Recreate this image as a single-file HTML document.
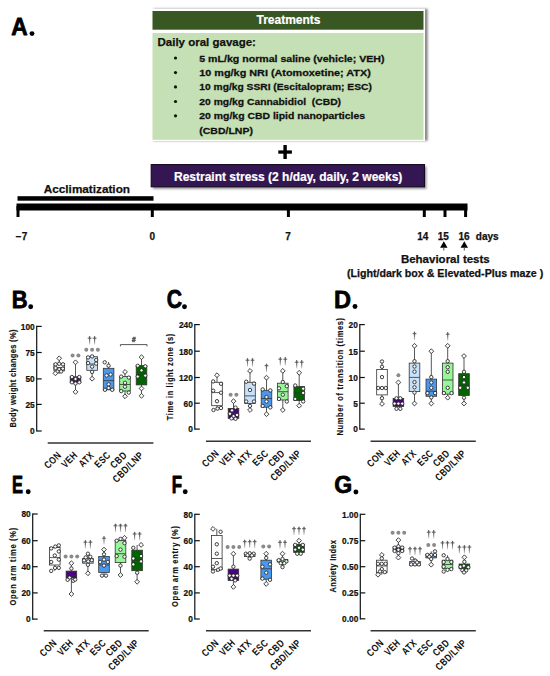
<!DOCTYPE html>
<html><head><meta charset="utf-8"><style>
html,body{margin:0;padding:0;background:#fff;}
svg{display:block;font-family:"Liberation Sans", sans-serif;}
</style></head><body>
<svg width="550" height="676" viewBox="0 0 550 676">
<defs><linearGradient id="dg" x1="0" y1="0" x2="0" y2="1"><stop offset="0" stop-color="#555"/><stop offset="0.5" stop-color="#707070"/><stop offset="1" stop-color="#c8c8c8"/></linearGradient><filter id="blur" x="-10%" y="-10%" width="120%" height="140%"><feGaussianBlur stdDeviation="1.2"/></filter></defs>
<rect width="550" height="676" fill="#fff"/>
<text transform="translate(11.13,34.80) scale(0.2269,0.2420)" font-size="100" font-weight="bold" fill="#000" stroke="#000" stroke-width="0.75" vector-effect="non-scaling-stroke" stroke-linejoin="round">A</text>
<circle cx="32.0" cy="33.6" r="2.45" fill="#000"/>
<rect x="153.6" y="8.8" width="274" height="132" fill="#000" opacity="0.5" filter="url(#blur)"/>
<rect x="150.5" y="8.7" width="274.6" height="132.3" fill="#fff"/>
<rect x="152.5" y="11" width="271" height="18.7" fill="#385723"/>
<rect x="152.5" y="33" width="271" height="106.8" fill="#C5E0B4"/>
<text x="288.5" y="24.4" font-size="12" font-weight="bold" fill="#fff" text-anchor="middle" stroke="#fff" stroke-width="0.2">Treatments</text>
<text x="157.5" y="46.4" font-size="11.5" font-weight="bold" fill="#111" stroke="#111" stroke-width="0.25">Daily oral gavage:</text>
<circle cx="175.5" cy="58.0" r="1.6" fill="#111"/>
<text transform="translate(199.3,61.5) scale(1.009,0.87)" font-size="10.5" font-weight="bold" fill="#111" stroke="#111" stroke-width="0.3" xml:space="preserve">5 mL/kg normal saline (vehicle; VEH)</text>
<circle cx="175.5" cy="72.60000000000001" r="1.6" fill="#111"/>
<text transform="translate(199.3,76.10000000000001) scale(1.032,0.87)" font-size="10.5" font-weight="bold" fill="#111" stroke="#111" stroke-width="0.3" xml:space="preserve">10 mg/kg NRI (Atomoxetine; ATX)</text>
<circle cx="175.5" cy="86.9" r="1.6" fill="#111"/>
<text transform="translate(199.3,90.4) scale(0.977,0.87)" font-size="10.5" font-weight="bold" fill="#111" stroke="#111" stroke-width="0.3" xml:space="preserve">10 mg/kg SSRI (Escitalopram; ESC)</text>
<circle cx="175.5" cy="101.5" r="1.6" fill="#111"/>
<text transform="translate(199.3,105.0) scale(0.984,0.87)" font-size="10.5" font-weight="bold" fill="#111" stroke="#111" stroke-width="0.3" xml:space="preserve">20 mg/kg Cannabidiol  (CBD)</text>
<circle cx="175.5" cy="115.8" r="1.6" fill="#111"/>
<text transform="translate(199.3,119.3) scale(0.995,0.87)" font-size="10.5" font-weight="bold" fill="#111" stroke="#111" stroke-width="0.3" xml:space="preserve">20 mg/kg CBD lipid nanoparticles</text>
<text transform="translate(199.3,133.6) scale(1.0,0.87)" font-size="10.5" font-weight="bold" fill="#111" stroke="#111" stroke-width="0.3" xml:space="preserve">(CBD/LNP)</text>
<rect x="278.3" y="150.4" width="13.6" height="3.3" fill="#000"/>
<rect x="283.4" y="145" width="3.4" height="14" fill="#000"/>
<rect x="153" y="166.5" width="273.5" height="22.5" fill="#000" opacity="0.4" filter="url(#blur)"/>
<rect x="151.2" y="164.6" width="273.3" height="22.2" fill="#341652" stroke="#140820" stroke-width="1.1"/>
<text x="174" y="180.6" font-size="12" font-weight="bold" fill="#fff" stroke="#fff" stroke-width="0.2">Restraint stress (2 h/day, daily, 2 weeks)</text>
<text x="43.8" y="192.9" font-size="11.75" font-weight="bold" fill="#111" stroke="#111" stroke-width="0.25">Acclimatization</text>
<rect x="17.5" y="196.2" width="136" height="4.5" fill="#000"/>
<rect x="16.5" y="203.5" width="451" height="7" fill="#000"/>
<rect x="16.5" y="206" width="3" height="11" fill="#000"/>
<rect x="150.8" y="206" width="3" height="11" fill="#000"/>
<rect x="286.9" y="206" width="3" height="11" fill="#000"/>
<rect x="422.8" y="206" width="3" height="11" fill="#000"/>
<rect x="443.5" y="206" width="3" height="11" fill="#000"/>
<rect x="464.1" y="206" width="3" height="11" fill="#000"/>
<text x="21.5" y="239.6" font-size="10" font-weight="bold" fill="#111" text-anchor="middle" stroke="#111" stroke-width="0.25">−7</text>
<text x="152.3" y="239.6" font-size="10" font-weight="bold" fill="#111" text-anchor="middle" stroke="#111" stroke-width="0.25">0</text>
<text x="288" y="239.6" font-size="10" font-weight="bold" fill="#111" text-anchor="middle" stroke="#111" stroke-width="0.25">7</text>
<text x="422.7" y="239.6" font-size="10" font-weight="bold" fill="#111" text-anchor="middle" stroke="#111" stroke-width="0.25">14</text>
<text x="443.2" y="239.6" font-size="10" font-weight="bold" fill="#111" text-anchor="middle" stroke="#111" stroke-width="0.25">15</text>
<text x="464.1" y="239.6" font-size="10" font-weight="bold" fill="#111" text-anchor="middle" stroke="#111" stroke-width="0.25">16</text>
<text x="475.8" y="239.6" font-size="10" font-weight="bold" fill="#111" stroke="#111" stroke-width="0.25">days</text>
<path d="M443.8 241.2 L447.5 247.7 L440.1 247.7 Z" fill="#000"/>
<rect x="443.3" y="247.5" width="1" height="3" fill="#555"/>
<path d="M464.3 241.2 L468.0 247.7 L460.6 247.7 Z" fill="#000"/>
<rect x="463.8" y="247.5" width="1" height="3" fill="#555"/>
<text x="400.9" y="262.8" font-size="11.5" font-weight="bold" fill="#111" stroke="#111" stroke-width="0.25">Behavioral tests</text>
<text x="346.9" y="276.6" font-size="10.65" font-weight="bold" fill="#111" stroke="#111" stroke-width="0.25">(Light/dark box &amp; Elevated-Plus maze )</text>
<text transform="translate(11.67,308.00) scale(0.2197,0.2406)" font-size="100" font-weight="bold" fill="#000" stroke="#000" stroke-width="0.75" vector-effect="non-scaling-stroke" stroke-linejoin="round">B</text>
<circle cx="30.7" cy="306.7" r="2.45" fill="#000"/>
<line x1="36.7" y1="325.79999999999995" x2="36.7" y2="431.6" stroke="#111" stroke-width="1.2"/>
<line x1="36.7" y1="326.4" x2="41.7" y2="326.4" stroke="#111" stroke-width="1.2"/>
<text transform="translate(34.70,329.70) scale(0.87,1)" font-size="9.6" font-weight="bold" fill="#111" text-anchor="end" stroke="#111" stroke-width="0.22">100</text>
<line x1="36.7" y1="352.5" x2="41.7" y2="352.5" stroke="#111" stroke-width="1.2"/>
<text transform="translate(34.70,355.80) scale(0.87,1)" font-size="9.6" font-weight="bold" fill="#111" text-anchor="end" stroke="#111" stroke-width="0.22">75</text>
<line x1="36.7" y1="378.9" x2="41.7" y2="378.9" stroke="#111" stroke-width="1.2"/>
<text transform="translate(34.70,382.20) scale(0.87,1)" font-size="9.6" font-weight="bold" fill="#111" text-anchor="end" stroke="#111" stroke-width="0.22">50</text>
<line x1="36.7" y1="404.4" x2="41.7" y2="404.4" stroke="#111" stroke-width="1.2"/>
<text transform="translate(34.70,407.70) scale(0.87,1)" font-size="9.6" font-weight="bold" fill="#111" text-anchor="end" stroke="#111" stroke-width="0.22">25</text>
<line x1="36.7" y1="431" x2="41.7" y2="431" stroke="#111" stroke-width="1.2"/>
<text transform="translate(34.70,434.30) scale(0.87,1)" font-size="9.6" font-weight="bold" fill="#111" text-anchor="end" stroke="#111" stroke-width="0.22">0</text>
<text transform="translate(15.90,378.55) rotate(-90) scale(0.78,1)" font-size="9.6" font-weight="bold" fill="#111" text-anchor="middle" textLength="125.64" lengthAdjust="spacing" stroke="#111" stroke-width="0.15">Body weight changes (%)</text>
<line x1="47.7" y1="443" x2="153.4" y2="443" stroke="#333" stroke-width="1.4"/>
<text transform="translate(61.80,455.80) rotate(-45) scale(0.8,1)" font-size="10.2" font-weight="bold" fill="#111" text-anchor="end" letter-spacing="0.45">CON</text>
<text transform="translate(78.10,455.80) rotate(-45) scale(0.8,1)" font-size="10.2" font-weight="bold" fill="#111" text-anchor="end" letter-spacing="0.45">VEH</text>
<text transform="translate(94.70,455.80) rotate(-45) scale(0.8,1)" font-size="10.2" font-weight="bold" fill="#111" text-anchor="end" letter-spacing="0.45">ATX</text>
<text transform="translate(111.20,455.80) rotate(-45) scale(0.8,1)" font-size="10.2" font-weight="bold" fill="#111" text-anchor="end" letter-spacing="0.45">ESC</text>
<text transform="translate(127.60,455.80) rotate(-45) scale(0.8,1)" font-size="10.2" font-weight="bold" fill="#111" text-anchor="end" letter-spacing="0.45">CBD</text>
<text transform="translate(144.10,455.80) rotate(-45) scale(0.8,1)" font-size="10.2" font-weight="bold" fill="#111" text-anchor="end" letter-spacing="0.45">CBD/LNP</text>
<line x1="59.2" y1="358.5" x2="59.2" y2="373.8" stroke="#444" stroke-width="0.9"/>
<rect x="53.900000000000006" y="363.8" width="10.6" height="7.099999999999966" fill="#ffffff" stroke="#333" stroke-width="0.8"/>
<line x1="53.900000000000006" y1="367.5" x2="64.5" y2="367.5" stroke="#333" stroke-width="0.8"/>
<path d="M59.20 355.90 L61.60 358.30 L59.20 360.70 L56.80 358.30 Z" fill="#fafafa" stroke="#222" stroke-width="0.85"/>
<circle cx="55.60" cy="364.30" r="1.7" fill="#fafafa" stroke="#222" stroke-width="0.85"/>
<circle cx="59.20" cy="363.80" r="1.7" fill="#fafafa" stroke="#222" stroke-width="0.85"/>
<circle cx="63.00" cy="364.30" r="1.7" fill="#fafafa" stroke="#222" stroke-width="0.85"/>
<circle cx="55.60" cy="368.00" r="1.7" fill="#fafafa" stroke="#222" stroke-width="0.85"/>
<circle cx="59.20" cy="369.30" r="1.7" fill="#fafafa" stroke="#222" stroke-width="0.85"/>
<circle cx="62.80" cy="368.60" r="1.7" fill="#fafafa" stroke="#222" stroke-width="0.85"/>
<circle cx="57.40" cy="371.50" r="1.7" fill="#fafafa" stroke="#222" stroke-width="0.85"/>
<circle cx="61.10" cy="371.50" r="1.7" fill="#fafafa" stroke="#222" stroke-width="0.85"/>
<path d="M55.40 370.90 L57.80 373.30 L55.40 375.70 L53.00 373.30 Z" fill="#fafafa" stroke="#222" stroke-width="0.85"/>
<line x1="75.5" y1="362" x2="75.5" y2="391.6" stroke="#444" stroke-width="0.9"/>
<rect x="70.2" y="376.8" width="10.6" height="5.899999999999977" fill="#4b0082" stroke="#333" stroke-width="0.8"/>
<line x1="70.2" y1="379.6" x2="80.8" y2="379.6" stroke="#333" stroke-width="0.8"/>
<path d="M75.50 359.90 L77.90 362.30 L75.50 364.70 L73.10 362.30 Z" fill="#fafafa" stroke="#222" stroke-width="0.85"/>
<circle cx="71.90" cy="377.00" r="1.7" fill="#fafafa" stroke="#222" stroke-width="0.85"/>
<circle cx="79.30" cy="377.00" r="1.7" fill="#fafafa" stroke="#222" stroke-width="0.85"/>
<circle cx="75.50" cy="379.00" r="1.7" fill="#fafafa" stroke="#222" stroke-width="0.85"/>
<circle cx="71.90" cy="382.30" r="1.7" fill="#fafafa" stroke="#222" stroke-width="0.85"/>
<circle cx="79.30" cy="382.30" r="1.7" fill="#fafafa" stroke="#222" stroke-width="0.85"/>
<circle cx="75.50" cy="383.50" r="1.7" fill="#fafafa" stroke="#222" stroke-width="0.85"/>
<path d="M75.50 389.50 L77.90 391.90 L75.50 394.30 L73.10 391.90 Z" fill="#fafafa" stroke="#222" stroke-width="0.85"/>
<line x1="92.1" y1="356.7" x2="92.1" y2="379.2" stroke="#444" stroke-width="0.9"/>
<rect x="86.8" y="356.7" width="10.6" height="13.600000000000023" fill="#c8e1fa" stroke="#333" stroke-width="0.8"/>
<line x1="86.8" y1="364" x2="97.39999999999999" y2="364" stroke="#333" stroke-width="0.8"/>
<circle cx="88.10" cy="357.40" r="1.7" fill="#fafafa" stroke="#222" stroke-width="0.85"/>
<circle cx="92.10" cy="356.40" r="1.7" fill="#fafafa" stroke="#222" stroke-width="0.85"/>
<circle cx="96.20" cy="360.00" r="1.7" fill="#fafafa" stroke="#222" stroke-width="0.85"/>
<circle cx="88.10" cy="363.10" r="1.7" fill="#fafafa" stroke="#222" stroke-width="0.85"/>
<circle cx="96.10" cy="363.60" r="1.7" fill="#fafafa" stroke="#222" stroke-width="0.85"/>
<circle cx="92.10" cy="366.70" r="1.7" fill="#fafafa" stroke="#222" stroke-width="0.85"/>
<circle cx="92.10" cy="371.90" r="1.7" fill="#fafafa" stroke="#222" stroke-width="0.85"/>
<path d="M92.10 376.30 L94.50 378.70 L92.10 381.10 L89.70 378.70 Z" fill="#fafafa" stroke="#222" stroke-width="0.85"/>
<line x1="108.6" y1="362" x2="108.6" y2="390" stroke="#444" stroke-width="0.9"/>
<rect x="103.3" y="368.3" width="10.6" height="21.5" fill="#4a98ee" stroke="#333" stroke-width="0.8"/>
<line x1="103.3" y1="380.6" x2="113.89999999999999" y2="380.6" stroke="#333" stroke-width="0.8"/>
<circle cx="104.70" cy="362.30" r="1.7" fill="#fafafa" stroke="#222" stroke-width="0.85"/>
<circle cx="108.60" cy="365.70" r="1.7" fill="#fafafa" stroke="#222" stroke-width="0.85"/>
<circle cx="106.60" cy="375.50" r="1.7" fill="#fafafa" stroke="#222" stroke-width="0.85"/>
<circle cx="110.60" cy="374.50" r="1.7" fill="#fafafa" stroke="#222" stroke-width="0.85"/>
<circle cx="108.60" cy="384.30" r="1.7" fill="#fafafa" stroke="#222" stroke-width="0.85"/>
<circle cx="108.60" cy="388.00" r="1.7" fill="#fafafa" stroke="#222" stroke-width="0.85"/>
<circle cx="105.00" cy="389.80" r="1.7" fill="#fafafa" stroke="#222" stroke-width="0.85"/>
<circle cx="112.20" cy="389.80" r="1.7" fill="#fafafa" stroke="#222" stroke-width="0.85"/>
<line x1="125" y1="371.7" x2="125" y2="397" stroke="#444" stroke-width="0.9"/>
<rect x="119.7" y="376.6" width="10.6" height="14.399999999999977" fill="#98f598" stroke="#333" stroke-width="0.8"/>
<line x1="119.7" y1="384.5" x2="130.3" y2="384.5" stroke="#333" stroke-width="0.8"/>
<path d="M125.00 369.50 L127.40 371.90 L125.00 374.30 L122.60 371.90 Z" fill="#fafafa" stroke="#222" stroke-width="0.85"/>
<circle cx="121.20" cy="376.60" r="1.7" fill="#fafafa" stroke="#222" stroke-width="0.85"/>
<circle cx="128.80" cy="377.60" r="1.7" fill="#fafafa" stroke="#222" stroke-width="0.85"/>
<circle cx="125.00" cy="382.80" r="1.7" fill="#fafafa" stroke="#222" stroke-width="0.85"/>
<circle cx="125.00" cy="386.70" r="1.7" fill="#fafafa" stroke="#222" stroke-width="0.85"/>
<circle cx="121.20" cy="391.10" r="1.7" fill="#fafafa" stroke="#222" stroke-width="0.85"/>
<circle cx="128.80" cy="392.60" r="1.7" fill="#fafafa" stroke="#222" stroke-width="0.85"/>
<path d="M125.00 393.90 L127.40 396.30 L125.00 398.70 L122.60 396.30 Z" fill="#fafafa" stroke="#222" stroke-width="0.85"/>
<line x1="141.5" y1="357" x2="141.5" y2="395.7" stroke="#444" stroke-width="0.9"/>
<rect x="136.2" y="365.6" width="10.6" height="19.299999999999955" fill="#006400" stroke="#333" stroke-width="0.8"/>
<line x1="136.2" y1="375" x2="146.8" y2="375" stroke="#333" stroke-width="0.8"/>
<path d="M141.50 354.80 L143.90 357.20 L141.50 359.60 L139.10 357.20 Z" fill="#fafafa" stroke="#222" stroke-width="0.85"/>
<circle cx="137.70" cy="365.80" r="1.7" fill="#fafafa" stroke="#222" stroke-width="0.85"/>
<circle cx="145.30" cy="366.30" r="1.7" fill="#fafafa" stroke="#222" stroke-width="0.85"/>
<circle cx="141.50" cy="370.40" r="1.7" fill="#fafafa" stroke="#222" stroke-width="0.85"/>
<circle cx="137.70" cy="376.60" r="1.7" fill="#fafafa" stroke="#222" stroke-width="0.85"/>
<circle cx="145.30" cy="375.60" r="1.7" fill="#fafafa" stroke="#222" stroke-width="0.85"/>
<path d="M141.50 386.10 L143.90 388.50 L141.50 390.90 L139.10 388.50 Z" fill="#fafafa" stroke="#222" stroke-width="0.85"/>
<path d="M141.50 393.40 L143.90 395.80 L141.50 398.20 L139.10 395.80 Z" fill="#fafafa" stroke="#222" stroke-width="0.85"/>
<circle cx="72.60" cy="355.5" r="2" fill="#8a8a8a"/>
<circle cx="78.40" cy="355.5" r="2" fill="#8a8a8a"/>
<circle cx="86.30" cy="349.8" r="2" fill="#8a8a8a"/>
<circle cx="92.10" cy="349.8" r="2" fill="#8a8a8a"/>
<circle cx="97.90" cy="349.8" r="2" fill="#8a8a8a"/>
<path d="M88.90 336.60 L89.60 336.00 L90.30 336.60 L90.05 344.50 L89.15 344.50 Z" fill="url(#dg)"/>
<rect x="87.70" y="337.70" width="3.8" height="1" fill="#5a5a5a"/>
<path d="M93.90 336.60 L94.60 336.00 L95.30 336.60 L95.05 344.50 L94.15 344.50 Z" fill="url(#dg)"/>
<rect x="92.70" y="337.70" width="3.8" height="1" fill="#5a5a5a"/>
<path d="M120.4 346.40000000000003 L120.4 344.6 L147 344.6 L147 346.40000000000003" stroke="#444" stroke-width="0.9" fill="none"/>
<text x="133.7" y="341.5" font-size="6.5" font-weight="bold" fill="#555" stroke="#555" stroke-width="0.5" text-anchor="middle">#</text>
<text transform="translate(166.75,308.25) scale(0.2122,0.2493)" font-size="100" font-weight="bold" fill="#000" stroke="#000" stroke-width="0.75" vector-effect="non-scaling-stroke" stroke-linejoin="round">C</text>
<circle cx="184.5" cy="306.7" r="2.45" fill="#000"/>
<line x1="194.8" y1="324.0" x2="194.8" y2="429.70000000000005" stroke="#111" stroke-width="1.2"/>
<line x1="194.8" y1="324.6" x2="199.8" y2="324.6" stroke="#111" stroke-width="1.2"/>
<text transform="translate(192.80,327.90) scale(0.87,1)" font-size="9.6" font-weight="bold" fill="#111" text-anchor="end" stroke="#111" stroke-width="0.22">240</text>
<line x1="194.8" y1="351.2" x2="199.8" y2="351.2" stroke="#111" stroke-width="1.2"/>
<text transform="translate(192.80,354.50) scale(0.87,1)" font-size="9.6" font-weight="bold" fill="#111" text-anchor="end" stroke="#111" stroke-width="0.22">180</text>
<line x1="194.8" y1="377.5" x2="199.8" y2="377.5" stroke="#111" stroke-width="1.2"/>
<text transform="translate(192.80,380.80) scale(0.87,1)" font-size="9.6" font-weight="bold" fill="#111" text-anchor="end" stroke="#111" stroke-width="0.22">120</text>
<line x1="194.8" y1="403.2" x2="199.8" y2="403.2" stroke="#111" stroke-width="1.2"/>
<text transform="translate(192.80,406.50) scale(0.87,1)" font-size="9.6" font-weight="bold" fill="#111" text-anchor="end" stroke="#111" stroke-width="0.22">60</text>
<line x1="194.8" y1="429.1" x2="199.8" y2="429.1" stroke="#111" stroke-width="1.2"/>
<text transform="translate(192.80,432.40) scale(0.87,1)" font-size="9.6" font-weight="bold" fill="#111" text-anchor="end" stroke="#111" stroke-width="0.22">0</text>
<text transform="translate(172.80,377.00) rotate(-90) scale(0.78,1)" font-size="9.6" font-weight="bold" fill="#111" text-anchor="middle" textLength="111.03" lengthAdjust="spacing" stroke="#111" stroke-width="0.15">Time in light zone (s)</text>
<line x1="206" y1="441.3" x2="311" y2="441.3" stroke="#333" stroke-width="1.4"/>
<text transform="translate(219.60,454.10) rotate(-45) scale(0.8,1)" font-size="10.2" font-weight="bold" fill="#111" text-anchor="end" letter-spacing="0.45">CON</text>
<text transform="translate(236.10,454.10) rotate(-45) scale(0.8,1)" font-size="10.2" font-weight="bold" fill="#111" text-anchor="end" letter-spacing="0.45">VEH</text>
<text transform="translate(252.60,454.10) rotate(-45) scale(0.8,1)" font-size="10.2" font-weight="bold" fill="#111" text-anchor="end" letter-spacing="0.45">ATX</text>
<text transform="translate(269.10,454.10) rotate(-45) scale(0.8,1)" font-size="10.2" font-weight="bold" fill="#111" text-anchor="end" letter-spacing="0.45">ESC</text>
<text transform="translate(285.40,454.10) rotate(-45) scale(0.8,1)" font-size="10.2" font-weight="bold" fill="#111" text-anchor="end" letter-spacing="0.45">CBD</text>
<text transform="translate(301.80,454.10) rotate(-45) scale(0.8,1)" font-size="10.2" font-weight="bold" fill="#111" text-anchor="end" letter-spacing="0.45">CBD/LNP</text>
<line x1="217" y1="375.2" x2="217" y2="410" stroke="#444" stroke-width="0.9"/>
<rect x="211.7" y="382.3" width="10.6" height="23.399999999999977" fill="#ffffff" stroke="#333" stroke-width="0.8"/>
<line x1="211.7" y1="392.6" x2="222.3" y2="392.6" stroke="#333" stroke-width="0.8"/>
<path d="M217.00 372.80 L219.40 375.20 L217.00 377.60 L214.60 375.20 Z" fill="#fafafa" stroke="#222" stroke-width="0.85"/>
<circle cx="213.20" cy="381.40" r="1.7" fill="#fafafa" stroke="#222" stroke-width="0.85"/>
<circle cx="221.00" cy="383.80" r="1.7" fill="#fafafa" stroke="#222" stroke-width="0.85"/>
<circle cx="213.20" cy="390.70" r="1.7" fill="#fafafa" stroke="#222" stroke-width="0.85"/>
<circle cx="221.00" cy="392.70" r="1.7" fill="#fafafa" stroke="#222" stroke-width="0.85"/>
<circle cx="217.00" cy="401.20" r="1.7" fill="#fafafa" stroke="#222" stroke-width="0.85"/>
<circle cx="221.00" cy="408.00" r="1.7" fill="#fafafa" stroke="#222" stroke-width="0.85"/>
<circle cx="217.50" cy="408.60" r="1.7" fill="#fafafa" stroke="#222" stroke-width="0.85"/>
<circle cx="213.50" cy="410.00" r="1.7" fill="#fafafa" stroke="#222" stroke-width="0.85"/>
<line x1="233.5" y1="401.4" x2="233.5" y2="420" stroke="#444" stroke-width="0.9"/>
<rect x="228.2" y="408.5" width="10.6" height="9.800000000000011" fill="#4b0082" stroke="#333" stroke-width="0.8"/>
<line x1="228.2" y1="413" x2="238.8" y2="413" stroke="#333" stroke-width="0.8"/>
<path d="M233.50 398.80 L235.90 401.20 L233.50 403.60 L231.10 401.20 Z" fill="#fafafa" stroke="#222" stroke-width="0.85"/>
<circle cx="235.50" cy="407.60" r="1.7" fill="#fafafa" stroke="#222" stroke-width="0.85"/>
<circle cx="232.00" cy="410.40" r="1.7" fill="#fafafa" stroke="#222" stroke-width="0.85"/>
<circle cx="229.90" cy="413.80" r="1.7" fill="#fafafa" stroke="#222" stroke-width="0.85"/>
<circle cx="237.10" cy="415.00" r="1.7" fill="#fafafa" stroke="#222" stroke-width="0.85"/>
<circle cx="233.50" cy="416.20" r="1.7" fill="#fafafa" stroke="#222" stroke-width="0.85"/>
<circle cx="231.50" cy="418.40" r="1.7" fill="#fafafa" stroke="#222" stroke-width="0.85"/>
<circle cx="235.50" cy="418.80" r="1.7" fill="#fafafa" stroke="#222" stroke-width="0.85"/>
<line x1="250" y1="370.8" x2="250" y2="410" stroke="#444" stroke-width="0.9"/>
<rect x="244.7" y="382.3" width="10.6" height="21.19999999999999" fill="#c8e1fa" stroke="#333" stroke-width="0.8"/>
<line x1="244.7" y1="395.9" x2="255.3" y2="395.9" stroke="#333" stroke-width="0.8"/>
<path d="M250.00 368.50 L252.40 370.90 L250.00 373.30 L247.60 370.90 Z" fill="#fafafa" stroke="#222" stroke-width="0.85"/>
<circle cx="246.20" cy="381.70" r="1.7" fill="#fafafa" stroke="#222" stroke-width="0.85"/>
<circle cx="254.00" cy="383.60" r="1.7" fill="#fafafa" stroke="#222" stroke-width="0.85"/>
<circle cx="250.00" cy="390.00" r="1.7" fill="#fafafa" stroke="#222" stroke-width="0.85"/>
<circle cx="246.20" cy="401.50" r="1.7" fill="#fafafa" stroke="#222" stroke-width="0.85"/>
<circle cx="254.00" cy="401.50" r="1.7" fill="#fafafa" stroke="#222" stroke-width="0.85"/>
<circle cx="250.00" cy="405.90" r="1.7" fill="#fafafa" stroke="#222" stroke-width="0.85"/>
<path d="M250.00 407.60 L252.40 410.00 L250.00 412.40 L247.60 410.00 Z" fill="#fafafa" stroke="#222" stroke-width="0.85"/>
<line x1="266.5" y1="377.2" x2="266.5" y2="414" stroke="#444" stroke-width="0.9"/>
<rect x="261.2" y="390.3" width="10.6" height="16.899999999999977" fill="#4a98ee" stroke="#333" stroke-width="0.8"/>
<line x1="261.2" y1="398.5" x2="271.8" y2="398.5" stroke="#333" stroke-width="0.8"/>
<path d="M266.50 375.30 L268.90 377.70 L266.50 380.10 L264.10 377.70 Z" fill="#fafafa" stroke="#222" stroke-width="0.85"/>
<circle cx="262.70" cy="389.40" r="1.7" fill="#fafafa" stroke="#222" stroke-width="0.85"/>
<circle cx="270.30" cy="390.40" r="1.7" fill="#fafafa" stroke="#222" stroke-width="0.85"/>
<circle cx="266.50" cy="397.00" r="1.7" fill="#fafafa" stroke="#222" stroke-width="0.85"/>
<circle cx="266.50" cy="401.50" r="1.7" fill="#fafafa" stroke="#222" stroke-width="0.85"/>
<circle cx="262.70" cy="405.90" r="1.7" fill="#fafafa" stroke="#222" stroke-width="0.85"/>
<circle cx="270.30" cy="407.40" r="1.7" fill="#fafafa" stroke="#222" stroke-width="0.85"/>
<path d="M266.50 411.80 L268.90 414.20 L266.50 416.60 L264.10 414.20 Z" fill="#fafafa" stroke="#222" stroke-width="0.85"/>
<line x1="282.8" y1="371" x2="282.8" y2="410.2" stroke="#444" stroke-width="0.9"/>
<rect x="277.5" y="383.2" width="10.6" height="16.80000000000001" fill="#98f598" stroke="#333" stroke-width="0.8"/>
<line x1="277.5" y1="391.7" x2="288.1" y2="391.7" stroke="#333" stroke-width="0.8"/>
<path d="M282.80 368.50 L285.20 370.90 L282.80 373.30 L280.40 370.90 Z" fill="#fafafa" stroke="#222" stroke-width="0.85"/>
<circle cx="282.80" cy="382.00" r="1.7" fill="#fafafa" stroke="#222" stroke-width="0.85"/>
<circle cx="286.80" cy="386.20" r="1.7" fill="#fafafa" stroke="#222" stroke-width="0.85"/>
<circle cx="279.00" cy="388.30" r="1.7" fill="#fafafa" stroke="#222" stroke-width="0.85"/>
<circle cx="282.80" cy="394.70" r="1.7" fill="#fafafa" stroke="#222" stroke-width="0.85"/>
<circle cx="279.00" cy="398.90" r="1.7" fill="#fafafa" stroke="#222" stroke-width="0.85"/>
<circle cx="286.80" cy="401.50" r="1.7" fill="#fafafa" stroke="#222" stroke-width="0.85"/>
<path d="M282.80 407.60 L285.20 410.00 L282.80 412.40 L280.40 410.00 Z" fill="#fafafa" stroke="#222" stroke-width="0.85"/>
<line x1="299.2" y1="372.8" x2="299.2" y2="405.5" stroke="#444" stroke-width="0.9"/>
<rect x="293.9" y="386.5" width="10.6" height="14.100000000000023" fill="#006400" stroke="#333" stroke-width="0.8"/>
<line x1="293.9" y1="393" x2="304.5" y2="393" stroke="#333" stroke-width="0.8"/>
<path d="M299.20 370.40 L301.60 372.80 L299.20 375.20 L296.80 372.80 Z" fill="#fafafa" stroke="#222" stroke-width="0.85"/>
<circle cx="295.20" cy="385.50" r="1.7" fill="#fafafa" stroke="#222" stroke-width="0.85"/>
<circle cx="303.20" cy="388.70" r="1.7" fill="#fafafa" stroke="#222" stroke-width="0.85"/>
<circle cx="303.20" cy="392.90" r="1.7" fill="#fafafa" stroke="#222" stroke-width="0.85"/>
<circle cx="295.20" cy="398.90" r="1.7" fill="#fafafa" stroke="#222" stroke-width="0.85"/>
<circle cx="303.20" cy="401.50" r="1.7" fill="#fafafa" stroke="#222" stroke-width="0.85"/>
<path d="M299.20 403.30 L301.60 405.70 L299.20 408.10 L296.80 405.70 Z" fill="#fafafa" stroke="#222" stroke-width="0.85"/>
<circle cx="230.60" cy="394.8" r="2" fill="#8a8a8a"/>
<circle cx="236.40" cy="394.8" r="2" fill="#8a8a8a"/>
<path d="M246.80 358.60 L247.50 358.00 L248.20 358.60 L247.95 366.50 L247.05 366.50 Z" fill="url(#dg)"/>
<rect x="245.60" y="359.70" width="3.8" height="1" fill="#5a5a5a"/>
<path d="M251.80 358.60 L252.50 358.00 L253.20 358.60 L252.95 366.50 L252.05 366.50 Z" fill="url(#dg)"/>
<rect x="250.60" y="359.70" width="3.8" height="1" fill="#5a5a5a"/>
<path d="M265.80 364.10 L266.50 363.50 L267.20 364.10 L266.95 372.00 L266.05 372.00 Z" fill="url(#dg)"/>
<rect x="264.60" y="365.20" width="3.8" height="1" fill="#5a5a5a"/>
<path d="M279.60 357.60 L280.30 357.00 L281.00 357.60 L280.75 365.50 L279.85 365.50 Z" fill="url(#dg)"/>
<rect x="278.40" y="358.70" width="3.8" height="1" fill="#5a5a5a"/>
<path d="M284.60 357.60 L285.30 357.00 L286.00 357.60 L285.75 365.50 L284.85 365.50 Z" fill="url(#dg)"/>
<rect x="283.40" y="358.70" width="3.8" height="1" fill="#5a5a5a"/>
<path d="M296.00 360.60 L296.70 360.00 L297.40 360.60 L297.15 368.50 L296.25 368.50 Z" fill="url(#dg)"/>
<rect x="294.80" y="361.70" width="3.8" height="1" fill="#5a5a5a"/>
<path d="M301.00 360.60 L301.70 360.00 L302.40 360.60 L302.15 368.50 L301.25 368.50 Z" fill="url(#dg)"/>
<rect x="299.80" y="361.70" width="3.8" height="1" fill="#5a5a5a"/>
<text transform="translate(334.07,308.00) scale(0.2358,0.2406)" font-size="100" font-weight="bold" fill="#000" stroke="#000" stroke-width="0.75" vector-effect="non-scaling-stroke" stroke-linejoin="round">D</text>
<circle cx="355.0" cy="306.5" r="2.45" fill="#000"/>
<line x1="359.8" y1="324.0" x2="359.8" y2="429.70000000000005" stroke="#111" stroke-width="1.2"/>
<line x1="359.8" y1="324.6" x2="364.8" y2="324.6" stroke="#111" stroke-width="1.2"/>
<text transform="translate(357.80,327.90) scale(0.87,1)" font-size="9.6" font-weight="bold" fill="#111" text-anchor="end" stroke="#111" stroke-width="0.22">20</text>
<line x1="359.8" y1="351.2" x2="364.8" y2="351.2" stroke="#111" stroke-width="1.2"/>
<text transform="translate(357.80,354.50) scale(0.87,1)" font-size="9.6" font-weight="bold" fill="#111" text-anchor="end" stroke="#111" stroke-width="0.22">15</text>
<line x1="359.8" y1="377.5" x2="364.8" y2="377.5" stroke="#111" stroke-width="1.2"/>
<text transform="translate(357.80,380.80) scale(0.87,1)" font-size="9.6" font-weight="bold" fill="#111" text-anchor="end" stroke="#111" stroke-width="0.22">10</text>
<line x1="359.8" y1="403.2" x2="364.8" y2="403.2" stroke="#111" stroke-width="1.2"/>
<text transform="translate(357.80,406.50) scale(0.87,1)" font-size="9.6" font-weight="bold" fill="#111" text-anchor="end" stroke="#111" stroke-width="0.22">5</text>
<line x1="359.8" y1="429.1" x2="364.8" y2="429.1" stroke="#111" stroke-width="1.2"/>
<text transform="translate(357.80,432.40) scale(0.87,1)" font-size="9.6" font-weight="bold" fill="#111" text-anchor="end" stroke="#111" stroke-width="0.22">0</text>
<text transform="translate(342.80,376.75) rotate(-90) scale(0.78,1)" font-size="9.6" font-weight="bold" fill="#111" text-anchor="middle" textLength="150.77" lengthAdjust="spacing" stroke="#111" stroke-width="0.15">Number of transition (times)</text>
<line x1="370.6" y1="441.3" x2="475.8" y2="441.3" stroke="#333" stroke-width="1.4"/>
<text transform="translate(384.60,454.10) rotate(-45) scale(0.8,1)" font-size="10.2" font-weight="bold" fill="#111" text-anchor="end" letter-spacing="0.45">CON</text>
<text transform="translate(401.00,454.10) rotate(-45) scale(0.8,1)" font-size="10.2" font-weight="bold" fill="#111" text-anchor="end" letter-spacing="0.45">VEH</text>
<text transform="translate(417.10,454.10) rotate(-45) scale(0.8,1)" font-size="10.2" font-weight="bold" fill="#111" text-anchor="end" letter-spacing="0.45">ATX</text>
<text transform="translate(433.90,454.10) rotate(-45) scale(0.8,1)" font-size="10.2" font-weight="bold" fill="#111" text-anchor="end" letter-spacing="0.45">ESC</text>
<text transform="translate(450.30,454.10) rotate(-45) scale(0.8,1)" font-size="10.2" font-weight="bold" fill="#111" text-anchor="end" letter-spacing="0.45">CBD</text>
<text transform="translate(466.60,454.10) rotate(-45) scale(0.8,1)" font-size="10.2" font-weight="bold" fill="#111" text-anchor="end" letter-spacing="0.45">CBD/LNP</text>
<line x1="382" y1="361.5" x2="382" y2="403.6" stroke="#444" stroke-width="0.9"/>
<rect x="376.7" y="369.5" width="10.6" height="25.399999999999977" fill="#ffffff" stroke="#333" stroke-width="0.8"/>
<line x1="376.7" y1="387.6" x2="387.3" y2="387.6" stroke="#333" stroke-width="0.8"/>
<circle cx="382.00" cy="361.50" r="1.7" fill="#fafafa" stroke="#222" stroke-width="0.85"/>
<circle cx="382.00" cy="366.80" r="1.7" fill="#fafafa" stroke="#222" stroke-width="0.85"/>
<circle cx="382.00" cy="377.10" r="1.7" fill="#fafafa" stroke="#222" stroke-width="0.85"/>
<circle cx="378.20" cy="388.00" r="1.7" fill="#fafafa" stroke="#222" stroke-width="0.85"/>
<circle cx="382.00" cy="388.00" r="1.7" fill="#fafafa" stroke="#222" stroke-width="0.85"/>
<circle cx="385.80" cy="388.00" r="1.7" fill="#fafafa" stroke="#222" stroke-width="0.85"/>
<circle cx="382.00" cy="398.20" r="1.7" fill="#fafafa" stroke="#222" stroke-width="0.85"/>
<path d="M382.00 401.50 L384.40 403.90 L382.00 406.30 L379.60 403.90 Z" fill="#fafafa" stroke="#222" stroke-width="0.85"/>
<line x1="398.4" y1="382.5" x2="398.4" y2="407" stroke="#444" stroke-width="0.9"/>
<rect x="393.09999999999997" y="398.5" width="10.6" height="8.0" fill="#4b0082" stroke="#333" stroke-width="0.8"/>
<line x1="393.09999999999997" y1="403" x2="403.7" y2="403" stroke="#333" stroke-width="0.8"/>
<path d="M398.40 380.00 L400.80 382.40 L398.40 384.80 L396.00 382.40 Z" fill="#fafafa" stroke="#222" stroke-width="0.85"/>
<circle cx="396.50" cy="398.30" r="1.7" fill="#fafafa" stroke="#222" stroke-width="0.85"/>
<circle cx="400.30" cy="398.30" r="1.7" fill="#fafafa" stroke="#222" stroke-width="0.85"/>
<circle cx="394.60" cy="403.60" r="1.7" fill="#fafafa" stroke="#222" stroke-width="0.85"/>
<circle cx="398.40" cy="403.60" r="1.7" fill="#fafafa" stroke="#222" stroke-width="0.85"/>
<circle cx="402.20" cy="403.60" r="1.7" fill="#fafafa" stroke="#222" stroke-width="0.85"/>
<circle cx="396.50" cy="408.80" r="1.7" fill="#fafafa" stroke="#222" stroke-width="0.85"/>
<circle cx="400.30" cy="408.80" r="1.7" fill="#fafafa" stroke="#222" stroke-width="0.85"/>
<line x1="414.5" y1="345.8" x2="414.5" y2="403.5" stroke="#444" stroke-width="0.9"/>
<rect x="409.2" y="363.1" width="10.6" height="28.5" fill="#c8e1fa" stroke="#333" stroke-width="0.8"/>
<line x1="409.2" y1="377.4" x2="419.8" y2="377.4" stroke="#333" stroke-width="0.8"/>
<path d="M414.50 343.40 L416.90 345.80 L414.50 348.20 L412.10 345.80 Z" fill="#fafafa" stroke="#222" stroke-width="0.85"/>
<circle cx="414.50" cy="361.20" r="1.7" fill="#fafafa" stroke="#222" stroke-width="0.85"/>
<circle cx="414.50" cy="366.50" r="1.7" fill="#fafafa" stroke="#222" stroke-width="0.85"/>
<circle cx="414.50" cy="371.70" r="1.7" fill="#fafafa" stroke="#222" stroke-width="0.85"/>
<circle cx="414.50" cy="382.10" r="1.7" fill="#fafafa" stroke="#222" stroke-width="0.85"/>
<circle cx="414.50" cy="387.30" r="1.7" fill="#fafafa" stroke="#222" stroke-width="0.85"/>
<circle cx="414.50" cy="392.60" r="1.7" fill="#fafafa" stroke="#222" stroke-width="0.85"/>
<path d="M414.50 401.10 L416.90 403.50 L414.50 405.90 L412.10 403.50 Z" fill="#fafafa" stroke="#222" stroke-width="0.85"/>
<line x1="431.3" y1="351.2" x2="431.3" y2="403.5" stroke="#444" stroke-width="0.9"/>
<rect x="426.0" y="379.1" width="10.6" height="17.19999999999999" fill="#4a98ee" stroke="#333" stroke-width="0.8"/>
<line x1="426.0" y1="391.2" x2="436.6" y2="391.2" stroke="#333" stroke-width="0.8"/>
<path d="M431.30 348.80 L433.70 351.20 L431.30 353.60 L428.90 351.20 Z" fill="#fafafa" stroke="#222" stroke-width="0.85"/>
<circle cx="431.30" cy="377.10" r="1.7" fill="#fafafa" stroke="#222" stroke-width="0.85"/>
<circle cx="431.30" cy="382.50" r="1.7" fill="#fafafa" stroke="#222" stroke-width="0.85"/>
<circle cx="431.30" cy="387.80" r="1.7" fill="#fafafa" stroke="#222" stroke-width="0.85"/>
<circle cx="427.50" cy="393.10" r="1.7" fill="#fafafa" stroke="#222" stroke-width="0.85"/>
<circle cx="435.10" cy="393.10" r="1.7" fill="#fafafa" stroke="#222" stroke-width="0.85"/>
<circle cx="431.30" cy="397.40" r="1.7" fill="#fafafa" stroke="#222" stroke-width="0.85"/>
<path d="M431.30 401.10 L433.70 403.50 L431.30 405.90 L428.90 403.50 Z" fill="#fafafa" stroke="#222" stroke-width="0.85"/>
<line x1="447.7" y1="345.8" x2="447.7" y2="397.7" stroke="#444" stroke-width="0.9"/>
<rect x="442.4" y="363.1" width="10.6" height="31.0" fill="#98f598" stroke="#333" stroke-width="0.8"/>
<line x1="442.4" y1="380" x2="453.0" y2="380" stroke="#333" stroke-width="0.8"/>
<path d="M447.70 343.40 L450.10 345.80 L447.70 348.20 L445.30 345.80 Z" fill="#fafafa" stroke="#222" stroke-width="0.85"/>
<circle cx="447.70" cy="361.20" r="1.7" fill="#fafafa" stroke="#222" stroke-width="0.85"/>
<circle cx="447.70" cy="367.20" r="1.7" fill="#fafafa" stroke="#222" stroke-width="0.85"/>
<circle cx="447.70" cy="371.80" r="1.7" fill="#fafafa" stroke="#222" stroke-width="0.85"/>
<circle cx="447.70" cy="387.80" r="1.7" fill="#fafafa" stroke="#222" stroke-width="0.85"/>
<circle cx="443.90" cy="393.10" r="1.7" fill="#fafafa" stroke="#222" stroke-width="0.85"/>
<circle cx="451.50" cy="393.10" r="1.7" fill="#fafafa" stroke="#222" stroke-width="0.85"/>
<path d="M447.70 395.30 L450.10 397.70 L447.70 400.10 L445.30 397.70 Z" fill="#fafafa" stroke="#222" stroke-width="0.85"/>
<line x1="464" y1="356" x2="464" y2="403.5" stroke="#444" stroke-width="0.9"/>
<rect x="458.7" y="373.7" width="10.6" height="21.80000000000001" fill="#006400" stroke="#333" stroke-width="0.8"/>
<line x1="458.7" y1="385" x2="469.3" y2="385" stroke="#333" stroke-width="0.8"/>
<path d="M464.00 353.60 L466.40 356.00 L464.00 358.40 L461.60 356.00 Z" fill="#fafafa" stroke="#222" stroke-width="0.85"/>
<circle cx="464.00" cy="371.80" r="1.7" fill="#fafafa" stroke="#222" stroke-width="0.85"/>
<circle cx="464.00" cy="377.10" r="1.7" fill="#fafafa" stroke="#222" stroke-width="0.85"/>
<circle cx="464.00" cy="382.50" r="1.7" fill="#fafafa" stroke="#222" stroke-width="0.85"/>
<circle cx="460.20" cy="387.80" r="1.7" fill="#fafafa" stroke="#222" stroke-width="0.85"/>
<circle cx="467.80" cy="387.80" r="1.7" fill="#fafafa" stroke="#222" stroke-width="0.85"/>
<circle cx="464.00" cy="397.70" r="1.7" fill="#fafafa" stroke="#222" stroke-width="0.85"/>
<path d="M464.00 401.10 L466.40 403.50 L464.00 405.90 L461.60 403.50 Z" fill="#fafafa" stroke="#222" stroke-width="0.85"/>
<circle cx="398.40" cy="375.3" r="2" fill="#8a8a8a"/>
<path d="M413.80 332.10 L414.50 331.50 L415.20 332.10 L414.95 340.00 L414.05 340.00 Z" fill="url(#dg)"/>
<rect x="412.60" y="333.20" width="3.8" height="1" fill="#5a5a5a"/>
<path d="M447.00 332.60 L447.70 332.00 L448.40 332.60 L448.15 340.50 L447.25 340.50 Z" fill="url(#dg)"/>
<rect x="445.80" y="333.70" width="3.8" height="1" fill="#5a5a5a"/>
<text transform="translate(12.03,493.30) scale(0.1646,0.2406)" font-size="100" font-weight="bold" fill="#000" stroke="#000" stroke-width="0.75" vector-effect="non-scaling-stroke" stroke-linejoin="round">E</text>
<circle cx="28.2" cy="491.8" r="2.45" fill="#000"/>
<line x1="32.7" y1="513.4" x2="32.7" y2="619.7" stroke="#111" stroke-width="1.2"/>
<line x1="32.7" y1="514" x2="37.7" y2="514" stroke="#111" stroke-width="1.2"/>
<text transform="translate(30.70,517.30) scale(0.87,1)" font-size="9.6" font-weight="bold" fill="#111" text-anchor="end" stroke="#111" stroke-width="0.22">80</text>
<line x1="32.7" y1="540.7" x2="37.7" y2="540.7" stroke="#111" stroke-width="1.2"/>
<text transform="translate(30.70,544.00) scale(0.87,1)" font-size="9.6" font-weight="bold" fill="#111" text-anchor="end" stroke="#111" stroke-width="0.22">60</text>
<line x1="32.7" y1="566.7" x2="37.7" y2="566.7" stroke="#111" stroke-width="1.2"/>
<text transform="translate(30.70,570.00) scale(0.87,1)" font-size="9.6" font-weight="bold" fill="#111" text-anchor="end" stroke="#111" stroke-width="0.22">40</text>
<line x1="32.7" y1="592.9" x2="37.7" y2="592.9" stroke="#111" stroke-width="1.2"/>
<text transform="translate(30.70,596.20) scale(0.87,1)" font-size="9.6" font-weight="bold" fill="#111" text-anchor="end" stroke="#111" stroke-width="0.22">20</text>
<line x1="32.7" y1="619.1" x2="37.7" y2="619.1" stroke="#111" stroke-width="1.2"/>
<text transform="translate(30.70,622.40) scale(0.87,1)" font-size="9.6" font-weight="bold" fill="#111" text-anchor="end" stroke="#111" stroke-width="0.22">0</text>
<text transform="translate(15.90,566.65) rotate(-90) scale(0.78,1)" font-size="9.6" font-weight="bold" fill="#111" text-anchor="middle" textLength="99.49" lengthAdjust="spacing" stroke="#111" stroke-width="0.15">Open arm time (%)</text>
<line x1="43.7" y1="630.8" x2="148.7" y2="630.8" stroke="#333" stroke-width="1.4"/>
<text transform="translate(57.40,643.60) rotate(-45) scale(0.8,1)" font-size="10.2" font-weight="bold" fill="#111" text-anchor="end" letter-spacing="0.45">CON</text>
<text transform="translate(74.00,643.60) rotate(-45) scale(0.8,1)" font-size="10.2" font-weight="bold" fill="#111" text-anchor="end" letter-spacing="0.45">VEH</text>
<text transform="translate(90.50,643.60) rotate(-45) scale(0.8,1)" font-size="10.2" font-weight="bold" fill="#111" text-anchor="end" letter-spacing="0.45">ATX</text>
<text transform="translate(106.60,643.60) rotate(-45) scale(0.8,1)" font-size="10.2" font-weight="bold" fill="#111" text-anchor="end" letter-spacing="0.45">ESC</text>
<text transform="translate(123.10,643.60) rotate(-45) scale(0.8,1)" font-size="10.2" font-weight="bold" fill="#111" text-anchor="end" letter-spacing="0.45">CBD</text>
<text transform="translate(139.70,643.60) rotate(-45) scale(0.8,1)" font-size="10.2" font-weight="bold" fill="#111" text-anchor="end" letter-spacing="0.45">CBD/LNP</text>
<line x1="54.8" y1="545.4" x2="54.8" y2="570.9" stroke="#444" stroke-width="0.9"/>
<rect x="49.5" y="547.5" width="10.6" height="17.5" fill="#ffffff" stroke="#333" stroke-width="0.8"/>
<line x1="49.5" y1="557.6" x2="60.099999999999994" y2="557.6" stroke="#333" stroke-width="0.8"/>
<circle cx="51.20" cy="548.40" r="1.7" fill="#fafafa" stroke="#222" stroke-width="0.85"/>
<circle cx="55.30" cy="546.60" r="1.7" fill="#fafafa" stroke="#222" stroke-width="0.85"/>
<circle cx="58.80" cy="545.40" r="1.7" fill="#fafafa" stroke="#222" stroke-width="0.85"/>
<circle cx="58.80" cy="551.40" r="1.7" fill="#fafafa" stroke="#222" stroke-width="0.85"/>
<circle cx="54.80" cy="555.50" r="1.7" fill="#fafafa" stroke="#222" stroke-width="0.85"/>
<circle cx="58.80" cy="559.60" r="1.7" fill="#fafafa" stroke="#222" stroke-width="0.85"/>
<circle cx="51.20" cy="562.00" r="1.7" fill="#fafafa" stroke="#222" stroke-width="0.85"/>
<circle cx="58.80" cy="567.90" r="1.7" fill="#fafafa" stroke="#222" stroke-width="0.85"/>
<circle cx="55.00" cy="567.90" r="1.7" fill="#fafafa" stroke="#222" stroke-width="0.85"/>
<circle cx="51.20" cy="570.90" r="1.7" fill="#fafafa" stroke="#222" stroke-width="0.85"/>
<line x1="71.4" y1="563.2" x2="71.4" y2="594" stroke="#444" stroke-width="0.9"/>
<rect x="66.10000000000001" y="571.1" width="10.6" height="6.899999999999977" fill="#4b0082" stroke="#333" stroke-width="0.8"/>
<line x1="66.10000000000001" y1="576" x2="76.7" y2="576" stroke="#333" stroke-width="0.8"/>
<path d="M71.40 560.80 L73.80 563.20 L71.40 565.60 L69.00 563.20 Z" fill="#fafafa" stroke="#222" stroke-width="0.85"/>
<circle cx="71.40" cy="568.50" r="1.7" fill="#fafafa" stroke="#222" stroke-width="0.85"/>
<circle cx="69.60" cy="577.60" r="1.7" fill="#fafafa" stroke="#222" stroke-width="0.85"/>
<circle cx="67.60" cy="579.80" r="1.7" fill="#fafafa" stroke="#222" stroke-width="0.85"/>
<circle cx="73.20" cy="580.80" r="1.7" fill="#fafafa" stroke="#222" stroke-width="0.85"/>
<circle cx="75.20" cy="579.60" r="1.7" fill="#fafafa" stroke="#222" stroke-width="0.85"/>
<path d="M71.40 591.60 L73.80 594.00 L71.40 596.40 L69.00 594.00 Z" fill="#fafafa" stroke="#222" stroke-width="0.85"/>
<line x1="87.9" y1="553.7" x2="87.9" y2="573.3" stroke="#444" stroke-width="0.9"/>
<rect x="82.60000000000001" y="558.5" width="10.6" height="4.7000000000000455" fill="#c8e1fa" stroke="#333" stroke-width="0.8"/>
<line x1="82.60000000000001" y1="561" x2="93.2" y2="561" stroke="#333" stroke-width="0.8"/>
<circle cx="87.90" cy="553.70" r="1.7" fill="#fafafa" stroke="#222" stroke-width="0.85"/>
<circle cx="85.70" cy="557.40" r="1.7" fill="#fafafa" stroke="#222" stroke-width="0.85"/>
<circle cx="90.30" cy="556.80" r="1.7" fill="#fafafa" stroke="#222" stroke-width="0.85"/>
<circle cx="84.00" cy="560.40" r="1.7" fill="#fafafa" stroke="#222" stroke-width="0.85"/>
<circle cx="91.80" cy="560.20" r="1.7" fill="#fafafa" stroke="#222" stroke-width="0.85"/>
<circle cx="88.20" cy="561.40" r="1.7" fill="#fafafa" stroke="#222" stroke-width="0.85"/>
<circle cx="87.90" cy="564.80" r="1.7" fill="#fafafa" stroke="#222" stroke-width="0.85"/>
<path d="M87.90 570.90 L90.30 573.30 L87.90 575.70 L85.50 573.30 Z" fill="#fafafa" stroke="#222" stroke-width="0.85"/>
<line x1="104" y1="549.6" x2="104" y2="576.2" stroke="#444" stroke-width="0.9"/>
<rect x="98.7" y="556.4" width="10.6" height="16.0" fill="#4a98ee" stroke="#333" stroke-width="0.8"/>
<line x1="98.7" y1="565" x2="109.3" y2="565" stroke="#333" stroke-width="0.8"/>
<path d="M104.00 547.20 L106.40 549.60 L104.00 552.00 L101.60 549.60 Z" fill="#fafafa" stroke="#222" stroke-width="0.85"/>
<circle cx="104.00" cy="554.30" r="1.7" fill="#fafafa" stroke="#222" stroke-width="0.85"/>
<circle cx="104.00" cy="559.60" r="1.7" fill="#fafafa" stroke="#222" stroke-width="0.85"/>
<circle cx="100.20" cy="562.00" r="1.7" fill="#fafafa" stroke="#222" stroke-width="0.85"/>
<circle cx="107.80" cy="562.00" r="1.7" fill="#fafafa" stroke="#222" stroke-width="0.85"/>
<circle cx="104.00" cy="565.60" r="1.7" fill="#fafafa" stroke="#222" stroke-width="0.85"/>
<circle cx="102.00" cy="575.60" r="1.7" fill="#fafafa" stroke="#222" stroke-width="0.85"/>
<circle cx="106.00" cy="575.60" r="1.7" fill="#fafafa" stroke="#222" stroke-width="0.85"/>
<line x1="120.5" y1="538.3" x2="120.5" y2="575" stroke="#444" stroke-width="0.9"/>
<rect x="115.2" y="540.4" width="10.6" height="22.200000000000045" fill="#98f598" stroke="#333" stroke-width="0.8"/>
<line x1="115.2" y1="553.7" x2="125.8" y2="553.7" stroke="#333" stroke-width="0.8"/>
<circle cx="116.70" cy="540.70" r="1.7" fill="#fafafa" stroke="#222" stroke-width="0.85"/>
<circle cx="120.50" cy="538.90" r="1.7" fill="#fafafa" stroke="#222" stroke-width="0.85"/>
<path d="M124.50 535.40 L126.90 537.80 L124.50 540.20 L122.10 537.80 Z" fill="#fafafa" stroke="#222" stroke-width="0.85"/>
<circle cx="124.50" cy="543.10" r="1.7" fill="#fafafa" stroke="#222" stroke-width="0.85"/>
<circle cx="120.50" cy="549.60" r="1.7" fill="#fafafa" stroke="#222" stroke-width="0.85"/>
<circle cx="116.70" cy="556.10" r="1.7" fill="#fafafa" stroke="#222" stroke-width="0.85"/>
<circle cx="124.50" cy="556.70" r="1.7" fill="#fafafa" stroke="#222" stroke-width="0.85"/>
<circle cx="120.50" cy="565.60" r="1.7" fill="#fafafa" stroke="#222" stroke-width="0.85"/>
<path d="M120.50 572.60 L122.90 575.00 L120.50 577.40 L118.10 575.00 Z" fill="#fafafa" stroke="#222" stroke-width="0.85"/>
<line x1="137.1" y1="545" x2="137.1" y2="581.8" stroke="#444" stroke-width="0.9"/>
<rect x="131.79999999999998" y="550.2" width="10.6" height="20.5" fill="#006400" stroke="#333" stroke-width="0.8"/>
<line x1="131.79999999999998" y1="560.2" x2="142.4" y2="560.2" stroke="#333" stroke-width="0.8"/>
<circle cx="133.30" cy="547.80" r="1.7" fill="#fafafa" stroke="#222" stroke-width="0.85"/>
<path d="M141.10 542.50 L143.50 544.90 L141.10 547.30 L138.70 544.90 Z" fill="#fafafa" stroke="#222" stroke-width="0.85"/>
<circle cx="141.10" cy="556.10" r="1.7" fill="#fafafa" stroke="#222" stroke-width="0.85"/>
<circle cx="133.30" cy="558.50" r="1.7" fill="#fafafa" stroke="#222" stroke-width="0.85"/>
<circle cx="141.10" cy="561.40" r="1.7" fill="#fafafa" stroke="#222" stroke-width="0.85"/>
<circle cx="133.30" cy="564.40" r="1.7" fill="#fafafa" stroke="#222" stroke-width="0.85"/>
<circle cx="137.10" cy="572.70" r="1.7" fill="#fafafa" stroke="#222" stroke-width="0.85"/>
<path d="M137.10 579.40 L139.50 581.80 L137.10 584.20 L134.70 581.80 Z" fill="#fafafa" stroke="#222" stroke-width="0.85"/>
<circle cx="65.60" cy="556.4" r="2" fill="#8a8a8a"/>
<circle cx="71.40" cy="556.4" r="2" fill="#8a8a8a"/>
<circle cx="77.20" cy="556.4" r="2" fill="#8a8a8a"/>
<path d="M84.70 540.60 L85.40 540.00 L86.10 540.60 L85.85 548.50 L84.95 548.50 Z" fill="url(#dg)"/>
<rect x="83.50" y="541.70" width="3.8" height="1" fill="#5a5a5a"/>
<path d="M89.70 540.60 L90.40 540.00 L91.10 540.60 L90.85 548.50 L89.95 548.50 Z" fill="url(#dg)"/>
<rect x="88.50" y="541.70" width="3.8" height="1" fill="#5a5a5a"/>
<path d="M103.30 536.60 L104.00 536.00 L104.70 536.60 L104.45 544.50 L103.55 544.50 Z" fill="url(#dg)"/>
<rect x="102.10" y="537.70" width="3.8" height="1" fill="#5a5a5a"/>
<path d="M114.80 524.20 L115.50 523.60 L116.20 524.20 L115.95 532.10 L115.05 532.10 Z" fill="url(#dg)"/>
<rect x="113.60" y="525.30" width="3.8" height="1" fill="#5a5a5a"/>
<path d="M119.80 524.20 L120.50 523.60 L121.20 524.20 L120.95 532.10 L120.05 532.10 Z" fill="url(#dg)"/>
<rect x="118.60" y="525.30" width="3.8" height="1" fill="#5a5a5a"/>
<path d="M124.80 524.20 L125.50 523.60 L126.20 524.20 L125.95 532.10 L125.05 532.10 Z" fill="url(#dg)"/>
<rect x="123.60" y="525.30" width="3.8" height="1" fill="#5a5a5a"/>
<path d="M133.90 532.40 L134.60 531.80 L135.30 532.40 L135.05 540.30 L134.15 540.30 Z" fill="url(#dg)"/>
<rect x="132.70" y="533.50" width="3.8" height="1" fill="#5a5a5a"/>
<path d="M138.90 532.40 L139.60 531.80 L140.30 532.40 L140.05 540.30 L139.15 540.30 Z" fill="url(#dg)"/>
<rect x="137.70" y="533.50" width="3.8" height="1" fill="#5a5a5a"/>
<text transform="translate(171.80,493.30) scale(0.1686,0.2406)" font-size="100" font-weight="bold" fill="#000" stroke="#000" stroke-width="0.75" vector-effect="non-scaling-stroke" stroke-linejoin="round">F</text>
<circle cx="185.2" cy="491.8" r="2.45" fill="#000"/>
<line x1="194.8" y1="513.6999999999999" x2="194.8" y2="619.6" stroke="#111" stroke-width="1.2"/>
<line x1="194.8" y1="514.3" x2="199.8" y2="514.3" stroke="#111" stroke-width="1.2"/>
<text transform="translate(192.80,517.60) scale(0.87,1)" font-size="9.6" font-weight="bold" fill="#111" text-anchor="end" stroke="#111" stroke-width="0.22">80</text>
<line x1="194.8" y1="540.7" x2="199.8" y2="540.7" stroke="#111" stroke-width="1.2"/>
<text transform="translate(192.80,544.00) scale(0.87,1)" font-size="9.6" font-weight="bold" fill="#111" text-anchor="end" stroke="#111" stroke-width="0.22">60</text>
<line x1="194.8" y1="566.7" x2="199.8" y2="566.7" stroke="#111" stroke-width="1.2"/>
<text transform="translate(192.80,570.00) scale(0.87,1)" font-size="9.6" font-weight="bold" fill="#111" text-anchor="end" stroke="#111" stroke-width="0.22">40</text>
<line x1="194.8" y1="592.9" x2="199.8" y2="592.9" stroke="#111" stroke-width="1.2"/>
<text transform="translate(192.80,596.20) scale(0.87,1)" font-size="9.6" font-weight="bold" fill="#111" text-anchor="end" stroke="#111" stroke-width="0.22">20</text>
<line x1="194.8" y1="619" x2="199.8" y2="619" stroke="#111" stroke-width="1.2"/>
<text transform="translate(192.80,622.30) scale(0.87,1)" font-size="9.6" font-weight="bold" fill="#111" text-anchor="end" stroke="#111" stroke-width="0.22">0</text>
<text transform="translate(178.00,566.50) rotate(-90) scale(0.78,1)" font-size="9.6" font-weight="bold" fill="#111" text-anchor="middle" textLength="103.59" lengthAdjust="spacing" stroke="#111" stroke-width="0.15">Open arm entry (%)</text>
<line x1="206" y1="630.8" x2="311" y2="630.8" stroke="#333" stroke-width="1.4"/>
<text transform="translate(219.40,643.60) rotate(-45) scale(0.8,1)" font-size="10.2" font-weight="bold" fill="#111" text-anchor="end" letter-spacing="0.45">CON</text>
<text transform="translate(236.00,643.60) rotate(-45) scale(0.8,1)" font-size="10.2" font-weight="bold" fill="#111" text-anchor="end" letter-spacing="0.45">VEH</text>
<text transform="translate(252.30,643.60) rotate(-45) scale(0.8,1)" font-size="10.2" font-weight="bold" fill="#111" text-anchor="end" letter-spacing="0.45">ATX</text>
<text transform="translate(268.80,643.60) rotate(-45) scale(0.8,1)" font-size="10.2" font-weight="bold" fill="#111" text-anchor="end" letter-spacing="0.45">ESC</text>
<text transform="translate(285.10,643.60) rotate(-45) scale(0.8,1)" font-size="10.2" font-weight="bold" fill="#111" text-anchor="end" letter-spacing="0.45">CBD</text>
<text transform="translate(301.60,643.60) rotate(-45) scale(0.8,1)" font-size="10.2" font-weight="bold" fill="#111" text-anchor="end" letter-spacing="0.45">CBD/LNP</text>
<line x1="216.8" y1="528.9" x2="216.8" y2="572" stroke="#444" stroke-width="0.9"/>
<rect x="211.5" y="535.4" width="10.6" height="34.30000000000007" fill="#ffffff" stroke="#333" stroke-width="0.8"/>
<line x1="211.5" y1="558.5" x2="222.10000000000002" y2="558.5" stroke="#333" stroke-width="0.8"/>
<path d="M213.00 526.50 L215.40 528.90 L213.00 531.30 L210.60 528.90 Z" fill="#fafafa" stroke="#222" stroke-width="0.85"/>
<circle cx="220.60" cy="531.80" r="1.7" fill="#fafafa" stroke="#222" stroke-width="0.85"/>
<circle cx="216.80" cy="544.30" r="1.7" fill="#fafafa" stroke="#222" stroke-width="0.85"/>
<circle cx="216.80" cy="553.70" r="1.7" fill="#fafafa" stroke="#222" stroke-width="0.85"/>
<circle cx="216.80" cy="563.20" r="1.7" fill="#fafafa" stroke="#222" stroke-width="0.85"/>
<circle cx="213.00" cy="566.70" r="1.7" fill="#fafafa" stroke="#222" stroke-width="0.85"/>
<circle cx="218.10" cy="569.70" r="1.7" fill="#fafafa" stroke="#222" stroke-width="0.85"/>
<circle cx="220.60" cy="568.50" r="1.7" fill="#fafafa" stroke="#222" stroke-width="0.85"/>
<circle cx="213.00" cy="571.50" r="1.7" fill="#fafafa" stroke="#222" stroke-width="0.85"/>
<line x1="233.4" y1="553.7" x2="233.4" y2="586.9" stroke="#444" stroke-width="0.9"/>
<rect x="228.1" y="569.1" width="10.6" height="11.299999999999955" fill="#4b0082" stroke="#333" stroke-width="0.8"/>
<line x1="228.1" y1="575" x2="238.70000000000002" y2="575" stroke="#333" stroke-width="0.8"/>
<path d="M233.40 551.30 L235.80 553.70 L233.40 556.10 L231.00 553.70 Z" fill="#fafafa" stroke="#222" stroke-width="0.85"/>
<circle cx="233.40" cy="566.70" r="1.7" fill="#fafafa" stroke="#222" stroke-width="0.85"/>
<circle cx="229.60" cy="575.60" r="1.7" fill="#fafafa" stroke="#222" stroke-width="0.85"/>
<circle cx="237.20" cy="575.60" r="1.7" fill="#fafafa" stroke="#222" stroke-width="0.85"/>
<circle cx="233.40" cy="575.60" r="1.7" fill="#fafafa" stroke="#222" stroke-width="0.85"/>
<circle cx="231.60" cy="578.80" r="1.7" fill="#fafafa" stroke="#222" stroke-width="0.85"/>
<circle cx="235.20" cy="580.40" r="1.7" fill="#fafafa" stroke="#222" stroke-width="0.85"/>
<path d="M233.40 584.50 L235.80 586.90 L233.40 589.30 L231.00 586.90 Z" fill="#fafafa" stroke="#222" stroke-width="0.85"/>
<line x1="249.7" y1="553.4" x2="249.7" y2="558.6" stroke="#444" stroke-width="0.9"/>
<rect x="244.39999999999998" y="553.4" width="10.6" height="3.2000000000000455" fill="#c8e1fa" stroke="#333" stroke-width="0.8"/>
<circle cx="245.80" cy="553.70" r="1.7" fill="#fafafa" stroke="#222" stroke-width="0.85"/>
<circle cx="249.70" cy="553.30" r="1.7" fill="#fafafa" stroke="#222" stroke-width="0.85"/>
<circle cx="253.60" cy="553.70" r="1.7" fill="#fafafa" stroke="#222" stroke-width="0.85"/>
<circle cx="247.50" cy="555.20" r="1.7" fill="#fafafa" stroke="#222" stroke-width="0.85"/>
<circle cx="251.90" cy="555.40" r="1.7" fill="#fafafa" stroke="#222" stroke-width="0.85"/>
<circle cx="249.70" cy="558.60" r="1.7" fill="#fafafa" stroke="#222" stroke-width="0.85"/>
<line x1="266.2" y1="553.7" x2="266.2" y2="583.9" stroke="#444" stroke-width="0.9"/>
<rect x="260.9" y="560.2" width="10.6" height="19.0" fill="#4a98ee" stroke="#333" stroke-width="0.8"/>
<line x1="260.9" y1="568.8" x2="271.5" y2="568.8" stroke="#333" stroke-width="0.8"/>
<path d="M266.20 551.30 L268.60 553.70 L266.20 556.10 L263.80 553.70 Z" fill="#fafafa" stroke="#222" stroke-width="0.85"/>
<circle cx="266.20" cy="557.90" r="1.7" fill="#fafafa" stroke="#222" stroke-width="0.85"/>
<circle cx="270.00" cy="564.40" r="1.7" fill="#fafafa" stroke="#222" stroke-width="0.85"/>
<circle cx="262.40" cy="566.70" r="1.7" fill="#fafafa" stroke="#222" stroke-width="0.85"/>
<circle cx="266.20" cy="572.70" r="1.7" fill="#fafafa" stroke="#222" stroke-width="0.85"/>
<circle cx="262.40" cy="578.60" r="1.7" fill="#fafafa" stroke="#222" stroke-width="0.85"/>
<circle cx="270.00" cy="579.80" r="1.7" fill="#fafafa" stroke="#222" stroke-width="0.85"/>
<path d="M266.20 581.50 L268.60 583.90 L266.20 586.30 L263.80 583.90 Z" fill="#fafafa" stroke="#222" stroke-width="0.85"/>
<line x1="282.5" y1="553.7" x2="282.5" y2="567.1" stroke="#444" stroke-width="0.9"/>
<rect x="277.2" y="559.6" width="10.6" height="2.3999999999999773" fill="#98f598" stroke="#333" stroke-width="0.8"/>
<path d="M282.50 551.30 L284.90 553.70 L282.50 556.10 L280.10 553.70 Z" fill="#fafafa" stroke="#222" stroke-width="0.85"/>
<circle cx="278.70" cy="560.20" r="1.7" fill="#fafafa" stroke="#222" stroke-width="0.85"/>
<circle cx="282.50" cy="559.00" r="1.7" fill="#fafafa" stroke="#222" stroke-width="0.85"/>
<circle cx="286.30" cy="561.40" r="1.7" fill="#fafafa" stroke="#222" stroke-width="0.85"/>
<circle cx="280.70" cy="563.20" r="1.7" fill="#fafafa" stroke="#222" stroke-width="0.85"/>
<circle cx="284.30" cy="563.20" r="1.7" fill="#fafafa" stroke="#222" stroke-width="0.85"/>
<circle cx="282.50" cy="567.10" r="1.7" fill="#fafafa" stroke="#222" stroke-width="0.85"/>
<line x1="299" y1="540.7" x2="299" y2="554.3" stroke="#444" stroke-width="0.9"/>
<rect x="293.7" y="544.3" width="10.6" height="8.200000000000045" fill="#006400" stroke="#333" stroke-width="0.8"/>
<line x1="293.7" y1="548" x2="304.3" y2="548" stroke="#333" stroke-width="0.8"/>
<path d="M299.00 538.30 L301.40 540.70 L299.00 543.10 L296.60 540.70 Z" fill="#fafafa" stroke="#222" stroke-width="0.85"/>
<circle cx="295.20" cy="544.90" r="1.7" fill="#fafafa" stroke="#222" stroke-width="0.85"/>
<circle cx="302.80" cy="544.90" r="1.7" fill="#fafafa" stroke="#222" stroke-width="0.85"/>
<circle cx="299.00" cy="547.80" r="1.7" fill="#fafafa" stroke="#222" stroke-width="0.85"/>
<circle cx="295.20" cy="549.60" r="1.7" fill="#fafafa" stroke="#222" stroke-width="0.85"/>
<circle cx="302.80" cy="549.60" r="1.7" fill="#fafafa" stroke="#222" stroke-width="0.85"/>
<circle cx="297.20" cy="553.70" r="1.7" fill="#fafafa" stroke="#222" stroke-width="0.85"/>
<circle cx="300.80" cy="553.70" r="1.7" fill="#fafafa" stroke="#222" stroke-width="0.85"/>
<circle cx="227.60" cy="547" r="2" fill="#8a8a8a"/>
<circle cx="233.40" cy="547" r="2" fill="#8a8a8a"/>
<circle cx="239.20" cy="547" r="2" fill="#8a8a8a"/>
<path d="M244.00 540.10 L244.70 539.50 L245.40 540.10 L245.15 548.00 L244.25 548.00 Z" fill="url(#dg)"/>
<rect x="242.80" y="541.20" width="3.8" height="1" fill="#5a5a5a"/>
<path d="M249.00 540.10 L249.70 539.50 L250.40 540.10 L250.15 548.00 L249.25 548.00 Z" fill="url(#dg)"/>
<rect x="247.80" y="541.20" width="3.8" height="1" fill="#5a5a5a"/>
<path d="M254.00 540.10 L254.70 539.50 L255.40 540.10 L255.15 548.00 L254.25 548.00 Z" fill="url(#dg)"/>
<rect x="252.80" y="541.20" width="3.8" height="1" fill="#5a5a5a"/>
<circle cx="263.30" cy="546.6" r="2" fill="#8a8a8a"/>
<circle cx="269.10" cy="546.6" r="2" fill="#8a8a8a"/>
<path d="M279.30 540.70 L280.00 540.10 L280.70 540.70 L280.45 548.60 L279.55 548.60 Z" fill="url(#dg)"/>
<rect x="278.10" y="541.80" width="3.8" height="1" fill="#5a5a5a"/>
<path d="M284.30 540.70 L285.00 540.10 L285.70 540.70 L285.45 548.60 L284.55 548.60 Z" fill="url(#dg)"/>
<rect x="283.10" y="541.80" width="3.8" height="1" fill="#5a5a5a"/>
<path d="M293.30 527.10 L294.00 526.50 L294.70 527.10 L294.45 535.00 L293.55 535.00 Z" fill="url(#dg)"/>
<rect x="292.10" y="528.20" width="3.8" height="1" fill="#5a5a5a"/>
<path d="M298.30 527.10 L299.00 526.50 L299.70 527.10 L299.45 535.00 L298.55 535.00 Z" fill="url(#dg)"/>
<rect x="297.10" y="528.20" width="3.8" height="1" fill="#5a5a5a"/>
<path d="M303.30 527.10 L304.00 526.50 L304.70 527.10 L304.45 535.00 L303.55 535.00 Z" fill="url(#dg)"/>
<rect x="302.10" y="528.20" width="3.8" height="1" fill="#5a5a5a"/>
<text transform="translate(334.18,493.46) scale(0.2311,0.2437)" font-size="100" font-weight="bold" fill="#000" stroke="#000" stroke-width="0.75" vector-effect="non-scaling-stroke" stroke-linejoin="round">G</text>
<circle cx="355.9" cy="492.0" r="2.45" fill="#000"/>
<line x1="360.3" y1="513.6999999999999" x2="360.3" y2="619.4" stroke="#111" stroke-width="1.2"/>
<line x1="360.3" y1="514.3" x2="365.3" y2="514.3" stroke="#111" stroke-width="1.2"/>
<text transform="translate(358.30,517.60) scale(0.87,1)" font-size="9.6" font-weight="bold" fill="#111" text-anchor="end" stroke="#111" stroke-width="0.22">1.00</text>
<line x1="360.3" y1="540.7" x2="365.3" y2="540.7" stroke="#111" stroke-width="1.2"/>
<text transform="translate(358.30,544.00) scale(0.87,1)" font-size="9.6" font-weight="bold" fill="#111" text-anchor="end" stroke="#111" stroke-width="0.22">0.75</text>
<line x1="360.3" y1="566.7" x2="365.3" y2="566.7" stroke="#111" stroke-width="1.2"/>
<text transform="translate(358.30,570.00) scale(0.87,1)" font-size="9.6" font-weight="bold" fill="#111" text-anchor="end" stroke="#111" stroke-width="0.22">0.50</text>
<line x1="360.3" y1="592.9" x2="365.3" y2="592.9" stroke="#111" stroke-width="1.2"/>
<text transform="translate(358.30,596.20) scale(0.87,1)" font-size="9.6" font-weight="bold" fill="#111" text-anchor="end" stroke="#111" stroke-width="0.22">0.25</text>
<line x1="360.3" y1="618.8" x2="365.3" y2="618.8" stroke="#111" stroke-width="1.2"/>
<text transform="translate(358.30,622.10) scale(0.87,1)" font-size="9.6" font-weight="bold" fill="#111" text-anchor="end" stroke="#111" stroke-width="0.22">0.00</text>
<text transform="translate(336.10,566.20) rotate(-90) scale(0.78,1)" font-size="9.6" font-weight="bold" fill="#111" text-anchor="middle" textLength="67.18" lengthAdjust="spacing" stroke="#111" stroke-width="0.15">Anxiety Index</text>
<line x1="370.6" y1="630.8" x2="475.8" y2="630.8" stroke="#333" stroke-width="1.4"/>
<text transform="translate(384.40,643.60) rotate(-45) scale(0.8,1)" font-size="10.2" font-weight="bold" fill="#111" text-anchor="end" letter-spacing="0.45">CON</text>
<text transform="translate(401.00,643.60) rotate(-45) scale(0.8,1)" font-size="10.2" font-weight="bold" fill="#111" text-anchor="end" letter-spacing="0.45">VEH</text>
<text transform="translate(417.60,643.60) rotate(-45) scale(0.8,1)" font-size="10.2" font-weight="bold" fill="#111" text-anchor="end" letter-spacing="0.45">ATX</text>
<text transform="translate(433.80,643.60) rotate(-45) scale(0.8,1)" font-size="10.2" font-weight="bold" fill="#111" text-anchor="end" letter-spacing="0.45">ESC</text>
<text transform="translate(450.10,643.60) rotate(-45) scale(0.8,1)" font-size="10.2" font-weight="bold" fill="#111" text-anchor="end" letter-spacing="0.45">CBD</text>
<text transform="translate(467.00,643.60) rotate(-45) scale(0.8,1)" font-size="10.2" font-weight="bold" fill="#111" text-anchor="end" letter-spacing="0.45">CBD/LNP</text>
<line x1="381.8" y1="554.9" x2="381.8" y2="574.7" stroke="#444" stroke-width="0.9"/>
<rect x="376.5" y="560.2" width="10.6" height="12.5" fill="#ffffff" stroke="#333" stroke-width="0.8"/>
<line x1="376.5" y1="566" x2="387.1" y2="566" stroke="#333" stroke-width="0.8"/>
<path d="M381.80 552.50 L384.20 554.90 L381.80 557.30 L379.40 554.90 Z" fill="#fafafa" stroke="#222" stroke-width="0.85"/>
<circle cx="381.80" cy="558.50" r="1.7" fill="#fafafa" stroke="#222" stroke-width="0.85"/>
<circle cx="378.00" cy="563.80" r="1.7" fill="#fafafa" stroke="#222" stroke-width="0.85"/>
<circle cx="381.80" cy="563.80" r="1.7" fill="#fafafa" stroke="#222" stroke-width="0.85"/>
<circle cx="385.60" cy="563.80" r="1.7" fill="#fafafa" stroke="#222" stroke-width="0.85"/>
<circle cx="381.80" cy="569.10" r="1.7" fill="#fafafa" stroke="#222" stroke-width="0.85"/>
<circle cx="380.00" cy="571.50" r="1.7" fill="#fafafa" stroke="#222" stroke-width="0.85"/>
<circle cx="384.80" cy="572.10" r="1.7" fill="#fafafa" stroke="#222" stroke-width="0.85"/>
<path d="M378.00 572.30 L380.40 574.70 L378.00 577.10 L375.60 574.70 Z" fill="#fafafa" stroke="#222" stroke-width="0.85"/>
<line x1="398.4" y1="540.1" x2="398.4" y2="557.6" stroke="#444" stroke-width="0.9"/>
<rect x="393.09999999999997" y="547" width="10.6" height="4" fill="#4b0082" stroke="#333" stroke-width="0.8"/>
<line x1="393.09999999999997" y1="549" x2="403.7" y2="549" stroke="#333" stroke-width="0.8"/>
<path d="M398.40 537.70 L400.80 540.10 L398.40 542.50 L396.00 540.10 Z" fill="#fafafa" stroke="#222" stroke-width="0.85"/>
<circle cx="394.60" cy="547.60" r="1.7" fill="#fafafa" stroke="#222" stroke-width="0.85"/>
<circle cx="398.40" cy="546.40" r="1.7" fill="#fafafa" stroke="#222" stroke-width="0.85"/>
<circle cx="402.20" cy="547.60" r="1.7" fill="#fafafa" stroke="#222" stroke-width="0.85"/>
<circle cx="394.60" cy="551.00" r="1.7" fill="#fafafa" stroke="#222" stroke-width="0.85"/>
<circle cx="398.40" cy="549.80" r="1.7" fill="#fafafa" stroke="#222" stroke-width="0.85"/>
<circle cx="402.20" cy="551.00" r="1.7" fill="#fafafa" stroke="#222" stroke-width="0.85"/>
<circle cx="398.40" cy="553.20" r="1.7" fill="#fafafa" stroke="#222" stroke-width="0.85"/>
<path d="M398.40 555.20 L400.80 557.60 L398.40 560.00 L396.00 557.60 Z" fill="#fafafa" stroke="#222" stroke-width="0.85"/>
<line x1="415" y1="558" x2="415" y2="566" stroke="#444" stroke-width="0.9"/>
<rect x="409.7" y="561.4" width="10.6" height="4.2000000000000455" fill="#c8e1fa" stroke="#333" stroke-width="0.8"/>
<circle cx="412.00" cy="558.50" r="1.7" fill="#fafafa" stroke="#222" stroke-width="0.85"/>
<circle cx="415.50" cy="560.80" r="1.7" fill="#fafafa" stroke="#222" stroke-width="0.85"/>
<circle cx="411.20" cy="564.40" r="1.7" fill="#fafafa" stroke="#222" stroke-width="0.85"/>
<circle cx="415.00" cy="564.40" r="1.7" fill="#fafafa" stroke="#222" stroke-width="0.85"/>
<circle cx="418.80" cy="564.40" r="1.7" fill="#fafafa" stroke="#222" stroke-width="0.85"/>
<circle cx="417.00" cy="562.40" r="1.7" fill="#fafafa" stroke="#222" stroke-width="0.85"/>
<line x1="431.2" y1="551.4" x2="431.2" y2="564.7" stroke="#444" stroke-width="0.9"/>
<rect x="425.9" y="554.3" width="10.6" height="3.6000000000000227" fill="#4a98ee" stroke="#333" stroke-width="0.8"/>
<circle cx="435.00" cy="551.40" r="1.7" fill="#fafafa" stroke="#222" stroke-width="0.85"/>
<circle cx="427.40" cy="554.90" r="1.7" fill="#fafafa" stroke="#222" stroke-width="0.85"/>
<circle cx="431.20" cy="554.90" r="1.7" fill="#fafafa" stroke="#222" stroke-width="0.85"/>
<circle cx="435.00" cy="554.90" r="1.7" fill="#fafafa" stroke="#222" stroke-width="0.85"/>
<circle cx="429.40" cy="556.70" r="1.7" fill="#fafafa" stroke="#222" stroke-width="0.85"/>
<circle cx="431.20" cy="559.00" r="1.7" fill="#fafafa" stroke="#222" stroke-width="0.85"/>
<path d="M431.20 562.30 L433.60 564.70 L431.20 567.10 L428.80 564.70 Z" fill="#fafafa" stroke="#222" stroke-width="0.85"/>
<line x1="447.5" y1="555.3" x2="447.5" y2="571.5" stroke="#444" stroke-width="0.9"/>
<rect x="442.2" y="560.2" width="10.6" height="8.299999999999955" fill="#98f598" stroke="#333" stroke-width="0.8"/>
<line x1="442.2" y1="564.5" x2="452.8" y2="564.5" stroke="#333" stroke-width="0.8"/>
<circle cx="443.70" cy="555.30" r="1.7" fill="#fafafa" stroke="#222" stroke-width="0.85"/>
<circle cx="447.50" cy="559.00" r="1.7" fill="#fafafa" stroke="#222" stroke-width="0.85"/>
<circle cx="443.70" cy="562.00" r="1.7" fill="#fafafa" stroke="#222" stroke-width="0.85"/>
<circle cx="451.30" cy="562.00" r="1.7" fill="#fafafa" stroke="#222" stroke-width="0.85"/>
<circle cx="443.70" cy="566.70" r="1.7" fill="#fafafa" stroke="#222" stroke-width="0.85"/>
<circle cx="451.30" cy="569.10" r="1.7" fill="#fafafa" stroke="#222" stroke-width="0.85"/>
<circle cx="443.70" cy="571.50" r="1.7" fill="#fafafa" stroke="#222" stroke-width="0.85"/>
<circle cx="447.50" cy="569.80" r="1.7" fill="#fafafa" stroke="#222" stroke-width="0.85"/>
<line x1="464.4" y1="557.3" x2="464.4" y2="572" stroke="#444" stroke-width="0.9"/>
<rect x="459.09999999999997" y="564" width="10.6" height="4.7999999999999545" fill="#006400" stroke="#333" stroke-width="0.8"/>
<path d="M464.40 554.90 L466.80 557.30 L464.40 559.70 L462.00 557.30 Z" fill="#fafafa" stroke="#222" stroke-width="0.85"/>
<circle cx="464.40" cy="561.80" r="1.7" fill="#fafafa" stroke="#222" stroke-width="0.85"/>
<circle cx="460.50" cy="566.80" r="1.7" fill="#fafafa" stroke="#222" stroke-width="0.85"/>
<circle cx="463.80" cy="565.80" r="1.7" fill="#fafafa" stroke="#222" stroke-width="0.85"/>
<circle cx="468.30" cy="567.20" r="1.7" fill="#fafafa" stroke="#222" stroke-width="0.85"/>
<circle cx="462.40" cy="570.20" r="1.7" fill="#fafafa" stroke="#222" stroke-width="0.85"/>
<circle cx="466.20" cy="570.40" r="1.7" fill="#fafafa" stroke="#222" stroke-width="0.85"/>
<circle cx="464.00" cy="572.40" r="1.7" fill="#fafafa" stroke="#222" stroke-width="0.85"/>
<circle cx="392.60" cy="532.8" r="2" fill="#8a8a8a"/>
<circle cx="398.40" cy="532.8" r="2" fill="#8a8a8a"/>
<circle cx="404.20" cy="532.8" r="2" fill="#8a8a8a"/>
<path d="M409.30 547.20 L410.00 546.60 L410.70 547.20 L410.45 555.10 L409.55 555.10 Z" fill="url(#dg)"/>
<rect x="408.10" y="548.30" width="3.8" height="1" fill="#5a5a5a"/>
<path d="M414.30 547.20 L415.00 546.60 L415.70 547.20 L415.45 555.10 L414.55 555.10 Z" fill="url(#dg)"/>
<rect x="413.10" y="548.30" width="3.8" height="1" fill="#5a5a5a"/>
<path d="M419.30 547.20 L420.00 546.60 L420.70 547.20 L420.45 555.10 L419.55 555.10 Z" fill="url(#dg)"/>
<rect x="418.10" y="548.30" width="3.8" height="1" fill="#5a5a5a"/>
<circle cx="428.30" cy="544.9" r="2" fill="#8a8a8a"/>
<circle cx="434.10" cy="544.9" r="2" fill="#8a8a8a"/>
<path d="M428.00 530.60 L428.70 530.00 L429.40 530.60 L429.15 538.50 L428.25 538.50 Z" fill="url(#dg)"/>
<rect x="426.80" y="531.70" width="3.8" height="1" fill="#5a5a5a"/>
<path d="M433.00 530.60 L433.70 530.00 L434.40 530.60 L434.15 538.50 L433.25 538.50 Z" fill="url(#dg)"/>
<rect x="431.80" y="531.70" width="3.8" height="1" fill="#5a5a5a"/>
<path d="M441.80 541.30 L442.50 540.70 L443.20 541.30 L442.95 549.20 L442.05 549.20 Z" fill="url(#dg)"/>
<rect x="440.60" y="542.40" width="3.8" height="1" fill="#5a5a5a"/>
<path d="M446.80 541.30 L447.50 540.70 L448.20 541.30 L447.95 549.20 L447.05 549.20 Z" fill="url(#dg)"/>
<rect x="445.60" y="542.40" width="3.8" height="1" fill="#5a5a5a"/>
<path d="M451.80 541.30 L452.50 540.70 L453.20 541.30 L452.95 549.20 L452.05 549.20 Z" fill="url(#dg)"/>
<rect x="450.60" y="542.40" width="3.8" height="1" fill="#5a5a5a"/>
<path d="M458.70 545.50 L459.40 544.90 L460.10 545.50 L459.85 553.40 L458.95 553.40 Z" fill="url(#dg)"/>
<rect x="457.50" y="546.60" width="3.8" height="1" fill="#5a5a5a"/>
<path d="M463.70 545.50 L464.40 544.90 L465.10 545.50 L464.85 553.40 L463.95 553.40 Z" fill="url(#dg)"/>
<rect x="462.50" y="546.60" width="3.8" height="1" fill="#5a5a5a"/>
<path d="M468.70 545.50 L469.40 544.90 L470.10 545.50 L469.85 553.40 L468.95 553.40 Z" fill="url(#dg)"/>
<rect x="467.50" y="546.60" width="3.8" height="1" fill="#5a5a5a"/>
</svg>
</body></html>
